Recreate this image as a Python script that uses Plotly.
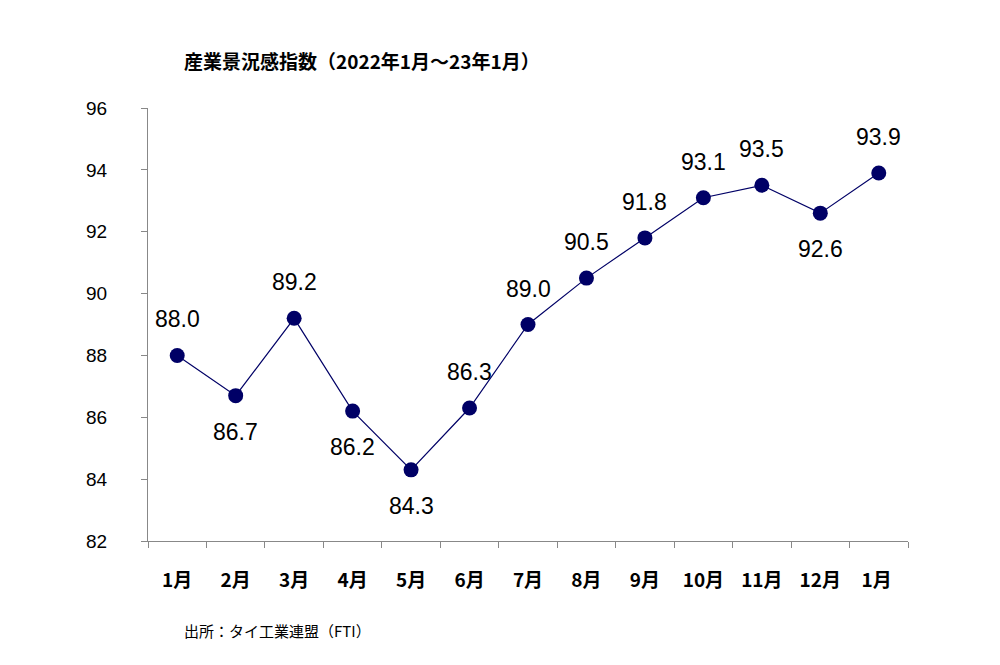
import plotly.graph_objects as go

months = ["1月","2月","3月","4月","5月","6月","7月","8月","9月","10月","11月","12月","1月 "]
values = [88.0, 86.7, 89.2, 86.2, 84.3, 86.3, 89.0, 90.5, 91.8, 93.1, 93.5, 92.6, 93.9]
above = [True, False, True, False, False, True, True, True, True, True, True, False, True]
yticks = [82, 84, 86, 88, 90, 92, 94, 96]

fig = go.Figure(go.Scatter(
    x=months, y=values, mode="lines+markers",
    line=dict(color="#000066", width=1.2),
    marker=dict(color="#000066", size=15),
    cliponaxis=False,
))
anns = [dict(x=m, y=v, text=f"{v:.1f}", showarrow=False, yshift=(36 if a else -36),
             font=dict(family="Liberation Sans", size=23, color="black"))
        for m, v, a in zip(months, values, above)]
anns += [
    dict(text="<b>産業景況感指数（2022年1月～23年1月）</b>", xref="paper", yref="paper", x=0.045, y=1.075,
         xanchor="left", yanchor="bottom", showarrow=False, font=dict(size=19)),
    dict(text="出所：タイ工業連盟（FTI）", xref="paper", yref="paper", x=0.045, y=-0.235,
         xanchor="left", yanchor="bottom", showarrow=False, font=dict(size=15)),
]
fig.update_layout(
    width=1000, height=665, plot_bgcolor="white", paper_bgcolor="white",
    margin=dict(l=140, r=100, t=100, b=132, autoexpand=False), showlegend=False,
    font=dict(family="Noto Sans CJK JP", size=17, color="black"),
    annotations=anns,
)
fig.update_xaxes(type="category", tickson="boundaries", ticks="outside", ticklen=6, tickcolor="#888",
                 showline=True, linecolor="#888", showgrid=False, range=[-0.5, 12.5],
                 ticklabelstandoff=22, automargin=False,
                 tickfont=dict(size=19, weight="bold"))
fig.update_yaxes(range=[82, 96], tickvals=yticks, ticks="outside", ticklen=6, tickcolor="#888",
                 showline=True, linecolor="#888", showgrid=False, ticklabelstandoff=30, automargin=False,
                 tickfont=dict(family="Liberation Sans", size=19))
fig.write_html("out.html")
